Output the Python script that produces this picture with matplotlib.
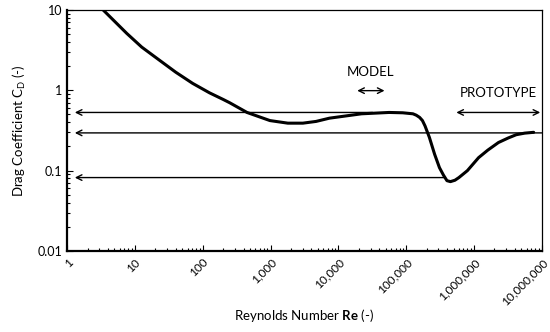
import matplotlib
matplotlib.use('Agg')
import matplotlib.pyplot as plt
from matplotlib.ticker import LogLocator, FixedLocator, NullFormatter

plt.rcParams['font.family'] = ['Lato', 'DejaVu Sans']
plt.rcParams['mathtext.fontset'] = 'custom'
plt.rcParams['mathtext.rm'] = 'Lato'
plt.rcParams['mathtext.bf'] = 'Lato:bold'
plt.rcParams['mathtext.it'] = 'Lato:italic'

# drag curve of a sphere
re = [3.4, 7.6, 12.6, 23, 40, 71, 126, 200, 250, 450, 980, 1800, 3000, 4700,
      7400, 22000, 56000, 89000, 126000, 141000, 158000, 174000, 190000,
      220000, 263000, 310000, 355000, 400000, 450000, 525000, 600000, 800000,
      1.17e6, 1.6e6, 2.3e6, 3.2e6, 4.2e6, 5.6e6, 7.6e6]
cd = [10, 5.1, 3.45, 2.37, 1.68, 1.22, 0.93, 0.77, 0.70, 0.53, 0.42, 0.39,
      0.39, 0.41, 0.45, 0.51, 0.53, 0.525, 0.51, 0.49, 0.46, 0.42, 0.36,
      0.26, 0.16, 0.109, 0.088, 0.075, 0.073, 0.076, 0.082, 0.10,
      0.145, 0.18, 0.224, 0.255, 0.28, 0.293, 0.30]

# horizontal arrows to the Cd axis: (Re at right end, Cd level)
arrow_start = [32000, 1e7, 360000]
arrow_cd = [0.53, 0.295, 0.082]
arrow_end_re = 1.3

model_span = [19000, 48000]
model_cd = 0.99
proto_span = [5.5e5, 9.5e6]
proto_cd = 0.53

xticks = [1, 10, 100, 1000, 10000, 100000, 1000000, 10000000]
xlabels = ['1', '10', '100', '1,000', '10,000', '100,000', '1,000,000', '10,000,000']
yticks = [0.01, 0.1, 1, 10]
ylabels = ['0.01', '0.1', '1', '10']

fig = plt.figure(figsize=(5.5, 3.32), dpi=100)
ax = fig.add_axes([0.122, 0.244, 0.863, 0.726])

ax.plot(re, cd, color='black', lw=2.2, solid_capstyle='round',
        solid_joinstyle='round')

for x0, y0 in zip(arrow_start, arrow_cd):
    ax.annotate('', xy=(arrow_end_re, y0), xytext=(x0, y0),
                arrowprops=dict(arrowstyle='->', color='black', lw=1.0,
                                shrinkA=0, shrinkB=0, mutation_scale=10))

ax.annotate('', xy=(model_span[0], model_cd), xytext=(model_span[1], model_cd),
            arrowprops=dict(arrowstyle='<->', color='black', lw=1.0,
                            shrinkA=0, shrinkB=0, mutation_scale=10))
ax.text((model_span[0] * model_span[1]) ** 0.5, model_cd * 1.45, 'MODEL',
        ha='center', va='bottom', fontsize=9.5)
ax.annotate('', xy=(proto_span[0], proto_cd), xytext=(proto_span[1], proto_cd),
            arrowprops=dict(arrowstyle='<->', color='black', lw=1.0,
                            shrinkA=0, shrinkB=0, mutation_scale=10))
ax.text((proto_span[0] * proto_span[1]) ** 0.5, proto_cd * 1.45, 'PROTOTYPE',
        ha='center', va='bottom', fontsize=9.5)

ax.set_xscale('log')
ax.set_yscale('log')
ax.set_xlim(1, 1e7)
ax.set_ylim(0.01, 10)

ax.xaxis.set_major_locator(FixedLocator(xticks))
ax.set_xticklabels(xlabels, rotation=45, ha='right', va='top',
                   rotation_mode='anchor', fontsize=8.5)
ax.yaxis.set_major_locator(FixedLocator(yticks))
ax.set_yticklabels(ylabels, fontsize=9)
ax.xaxis.set_minor_locator(LogLocator(base=10, subs=range(2, 10), numticks=20))
ax.yaxis.set_minor_locator(LogLocator(base=10, subs=range(2, 10), numticks=20))
ax.xaxis.set_minor_formatter(NullFormatter())
ax.yaxis.set_minor_formatter(NullFormatter())
ax.tick_params(which='both', direction='in', top=False, right=False, width=0.8)
ax.tick_params(which='major', length=4)
ax.tick_params(which='minor', length=2.5)
ax.tick_params(axis='x', which='major', pad=4)

for s in ['left', 'bottom']:
    ax.spines[s].set_linewidth(1.6)
for s in ['top', 'right']:
    ax.spines[s].set_linewidth(0.9)

ax.set_xlabel(r'Reynolds Number $\mathbf{Re}$ (-)', fontsize=9.5, labelpad=0)
ax.set_ylabel(r'Drag Coefficient C$_\mathrm{D}$ (-)', fontsize=9.5, labelpad=7)

fig.savefig('out.png', dpi=100)
